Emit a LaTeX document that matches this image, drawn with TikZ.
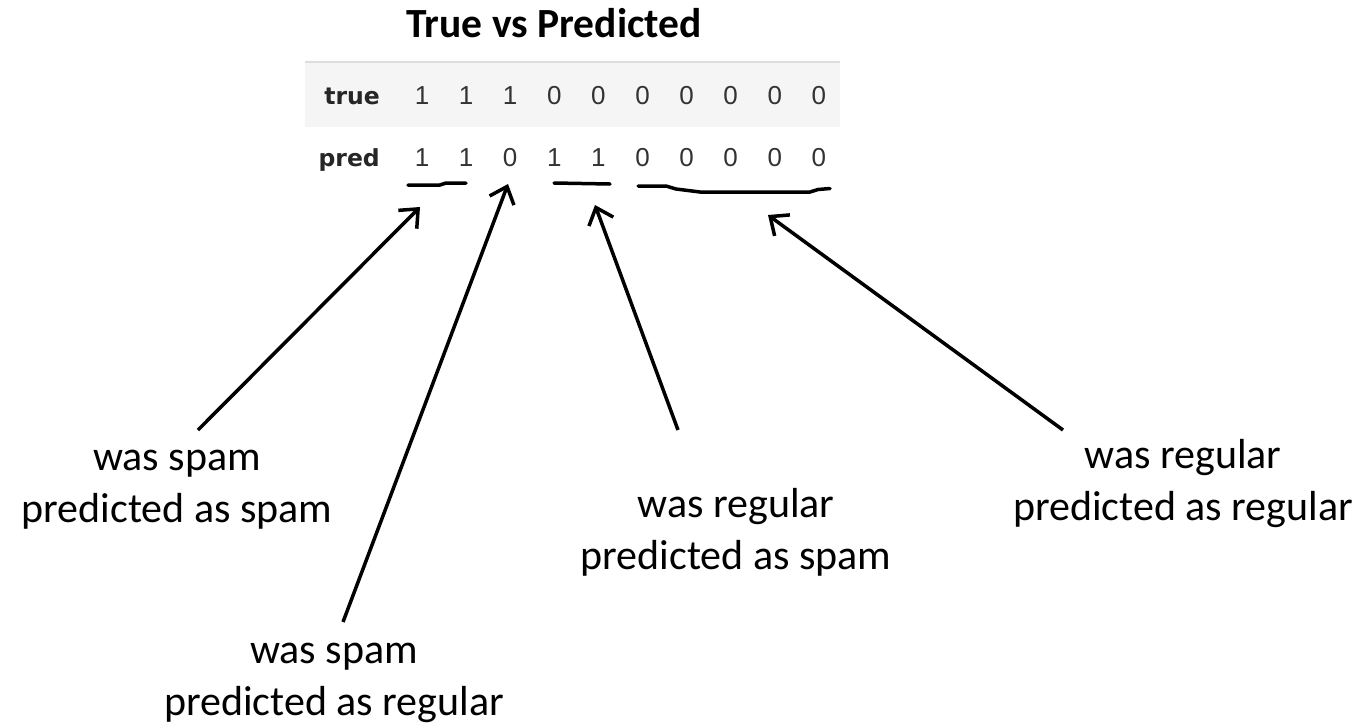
\documentclass[tikz,border=0pt]{standalone}
\usepackage{fontspec}
\setmainfont{Carlito}
\newfontfamily\tabfont{Liberation Sans}
\newfontfamily\tabbold{DejaVu Sans}
\usetikzlibrary{arrows.meta}
\definecolor{bandgray}{HTML}{F5F5F5}
\definecolor{bandline}{HTML}{DDDDDD}
\definecolor{digitcol}{HTML}{333333}
\tikzset{
  lbl/.style={align=center, inner sep=0pt, anchor=base, font=\fontsize{42}{52}\selectfont},
  digit/.style={inner sep=0pt, anchor=base, text=digitcol, font=\tabfont\fontsize{26}{30}\selectfont},
  rowhead/.style={inner sep=0pt, anchor=base east, text=black!85, font=\tabbold\bfseries\fontsize{23.5}{28}\selectfont},
  pointer/.style={line width=3.5pt, -{Straight Barb[length=15pt,width=26pt]}},
  stroke/.style={line width=3.5pt, line cap=round, line join=round}
}
\begin{document}
\begin{tikzpicture}[x=1pt,y=-1pt]
\useasboundingbox (0,0) rectangle (1365,724);
% title
\node[inner sep=0pt, anchor=base, font=\bfseries\fontsize{41.5}{46}\selectfont] (title) at (554,37) {True vs Predicted};
% table band
\fill[bandgray] (305,62) rectangle (840,127);
\draw[bandline, line width=1.5pt] (305,62) -- (840,62);
\node[rowhead] (hTrue) at (380,104) {true};
\node[rowhead] (hPred) at (380,166) {pred};
\foreach \v [count=\i from 0] in {1,1,1,0,0,0,0,0,0,0} {
  \node[digit] (t\i) at (422+44.1*\i,104) {\v};
}
\foreach \v [count=\i from 0] in {1,1,0,1,1,0,0,0,0,0} {
  \node[digit] (p\i) at (422+44.1*\i,166) {\v};
}
% hand-drawn underlines
\draw[stroke] (408,185) -- (440,185) -- (446,183) -- (466,183);
\draw[stroke] (554,183) -- (610,184);
\draw[stroke] (638,186) -- (666,186) -- (676,189) -- (700,192) -- (810,192) -- (818,189.5) -- (830,188.5);
% labels (anchor = baseline of the last line)
\node[lbl] (lA) at (177,522) {was spam\\predicted as spam};
\node[lbl] (lB) at (334,715) {was spam\\predicted as regular};
\node[lbl] (lC) at (736,569) {was regular\\predicted as spam};
\node[lbl] (lD) at (1183,520) {was regular\\predicted as regular};
% arrow ends
\coordinate (aS) at (198,430);
\coordinate (aT) at (420,207);
\coordinate (bS) at (343,622);
\coordinate (bT) at (508,184);
\coordinate (cS) at (678,430);
\coordinate (cT) at (595,205);
\coordinate (dS) at (1063,430);
\coordinate (dT) at (768,215);
\draw[pointer] (aS) -- (aT);
\draw[pointer] (bS) -- (bT);
\draw[pointer] (cS) -- (cT);
\draw[pointer] (dS) -- (dT);
\end{tikzpicture}
\end{document}
